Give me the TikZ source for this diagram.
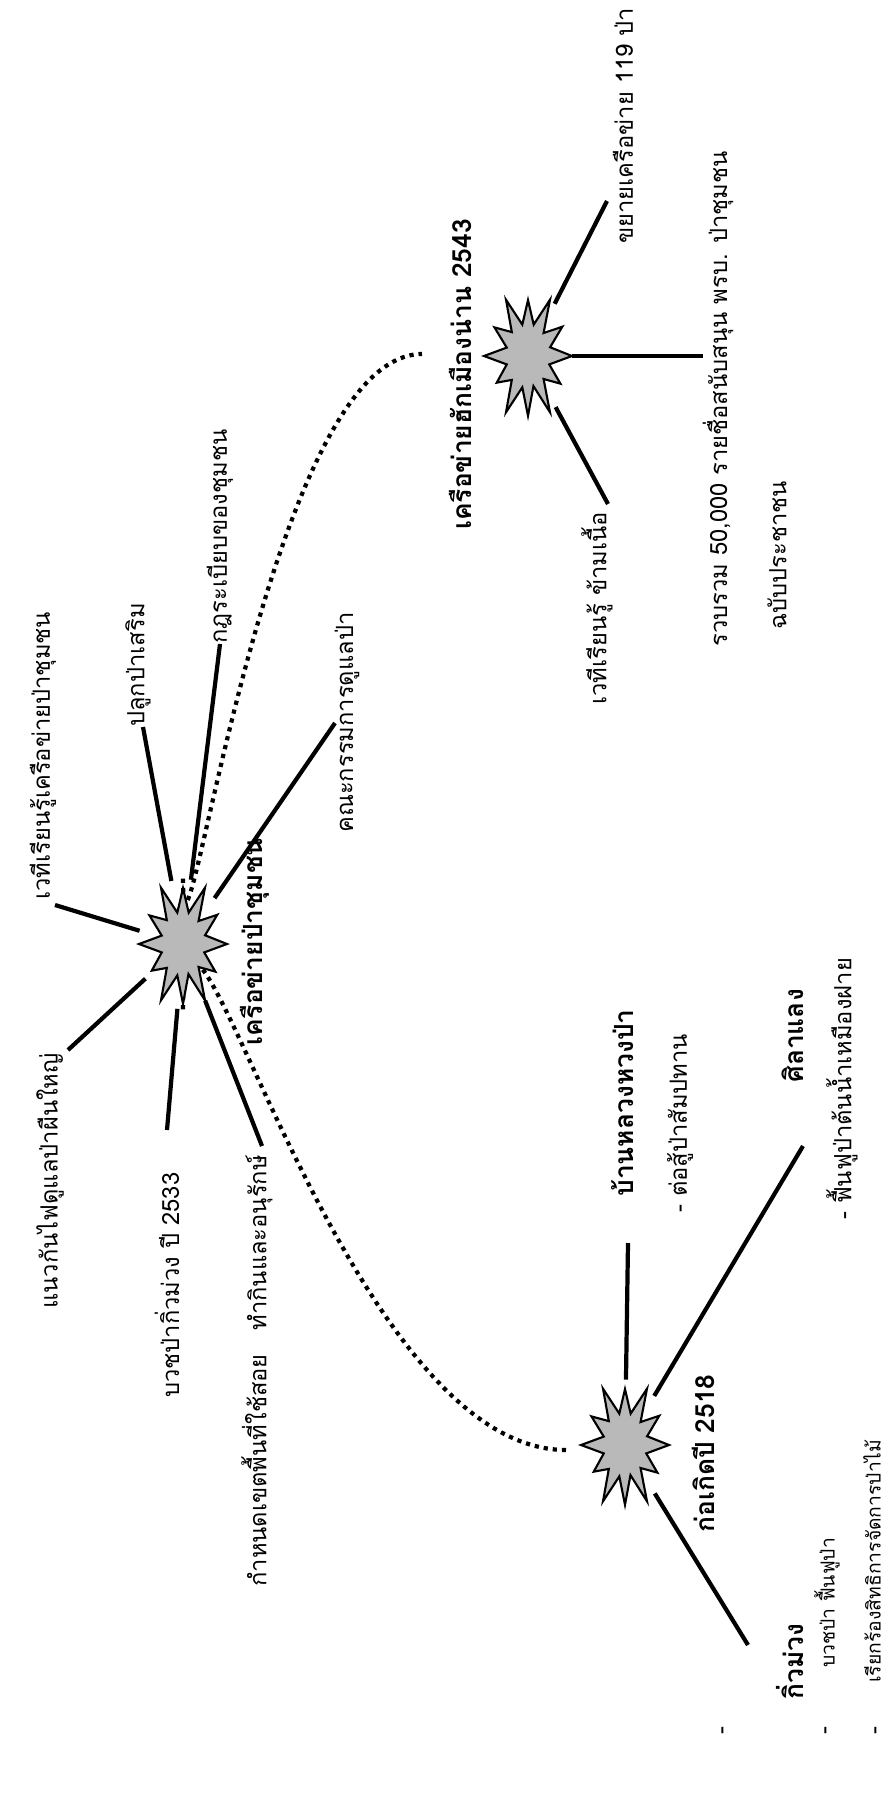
\documentclass[tikz,border=0pt]{standalone}
\usepackage{fontspec}
\newfontfamily\thaifont[Script=Thai]{Loma}
\usetikzlibrary{shapes.geometric}

\tikzset{
  hubzone/.style={ellipse, minimum width=1.76cm, minimum height=2.6cm, inner sep=0pt},
  burst/.style={draw, line width=1.2pt, fill=gray!55, line join=miter},
  spoke/.style={line width=2.4pt},
  dotlink/.style={line width=2.4pt, dash pattern=on 2.4pt off 2.8pt},
  item/.style={rotate=90, anchor=west, inner sep=0pt, font=\thaifont\fontsize{13.5}{16}\selectfont},
  note/.style={item, font=\thaifont\fontsize{11}{13}\selectfont},
  head/.style={item, font=\thaifont\bfseries\fontsize{15}{17}\selectfont},
}

% starburst round a hub node
\newcommand{\drawburst}[1]{%
  \draw[burst, shift={(#1.center)}] (44,0)
    \foreach \a/\k in {15/.5,30/.85,45/.5,60/1,75/.48,90/.92,105/.5,120/1,135/.52,150/.82,165/.5,180/1,195/.5,210/.88,225/.52,240/1,255/.5,270/.86,285/.5,300/1,315/.5,330/.9,345/.52}
      {-- ({\k*44*cos(\a)},{\k*65*sin(\a)})} -- cycle;}

\begin{document}
\begin{tikzpicture}[x=0.02cm, y=-0.02cm]
    \useasboundingbox (0,0) rectangle (890,1802);

    %% Hubs
    \node[hubzone] (hubA) at (183,944) {};
    \node[hubzone] (hubB) at (625,1445) {};
    \node[hubzone] (hubC) at (528,356) {};

    % Dotted links between hubs
    \coordinate (linkC) at (422,354);
    \coordinate (linkB) at (566,1450);
    \draw[dotlink] (hubA.north) to[out=-90, in=180, looseness=0.7] (linkC);
    \draw[dotlink] (hubA.south) to[out=90, in=180] (linkB);

    \drawburst{hubA}
    \drawburst{hubB}
    \drawburst{hubC}

    % Hub labels
    \node[head] (netA) at (255,1046) {เครือข่ายป่าชุมชน};
    \node[head] (netB) at (703,1533) {ก่อเกิดปี 2518};
    \node[head] (netC) at (460,530) {เครือข่ายฮักเมืองน่าน 2543};

    %% Community forest network
    \node[item] (forum) at (43,900) {เวทีเรียนรู้เครือข่ายป่าชุมชน};
    \node[item] (firebreak) at (50,1309) {แนวกันไฟดูแลป่าผืนใหญ่};
    \node[item] (ordain) at (167,1398) {บวชป่ากิ่วม่วง ปี 2533};
    \node[item] (zoning) at (257,1587) {กำหนดเขตพื้นที่ใช้สอย\quad ทำกินและอนุรักษ์};
    \node[item] (plant) at (138,727) {ปลูกป่าเสริม};
    \node[item] (rules) at (220,644) {กฎระเบียบของชุมชน};
    \node[item] (board) at (347,833) {คณะกรรมการดูแลป่า};

    \coordinate (forumE) at (55,905);
    \coordinate (firebreakE) at (68,1050);
    \coordinate (ordainE) at (167,1130);
    \coordinate (zoningE) at (262,1146);
    \coordinate (plantE) at (143,727);
    \coordinate (rulesE) at (220,644);
    \coordinate (boardE) at (335,723);
    \foreach \e in {forumE,firebreakE,ordainE,zoningE,plantE,rulesE,boardE}
        \draw[spoke] (hubA) -- (\e);

    %% Nan network
    \node[item] (grow) at (623,244) {ขยายเครือข่าย 119 ป่า};
    \node[item] (petition) at (718,647) {รวบรวม 50,000 รายชื่อสนับสนุน พรบ. ป่าชุมชน};
    \node[item] (petition2) at (777,630) {ฉบับประชาชน};
    \node[item] (forumN) at (597,705) {เวทีเรียนรู้ ข้ามเนื้อ};

    \coordinate (growE) at (607,201);
    \coordinate (petitionE) at (703,356);
    \coordinate (forumNE) at (608,504);
    \foreach \e in {growE,petitionE,forumNE}
        \draw[spoke] (hubC) -- (\e);

    %% Origin 2518
    \node[head] (village) at (623,1197) {บ้านหลวงหวงป่า};
    \node[item] (village2) at (680,1213) {- ต่อสู้ป่าสัมปทาน};
    \node[head] (sila) at (793,1083) {ศิลาแลง};
    \node[item] (sila2) at (842,1220) {- ฟื้นฟูป่าต้นน้ำเหมืองฝาย};
    \node[head] (kiu) at (790,1700) {กิ่วม่วง};
    \node[note] (kiu2) at (827,1668) {บวชป่า ฟื้นฟูป่า};
    \node[note] (kiu3) at (872,1683) {เรียกร้องสิทธิการจัดการป่าไม้};

    \coordinate (villageE) at (628,1243);
    \coordinate (silaE) at (803,1146);
    \coordinate (kiuE) at (748,1645);
    \foreach \e in {villageE,silaE,kiuE}
        \draw[spoke] (hubB) -- (\e);

    % Loose dashes at the foot
    \node[item] (dashA) at (725,1735) {-};
    \node[item] (dashB) at (828,1735) {-};
    \node[item] (dashC) at (878,1735) {-};

\end{tikzpicture}
\end{document}
